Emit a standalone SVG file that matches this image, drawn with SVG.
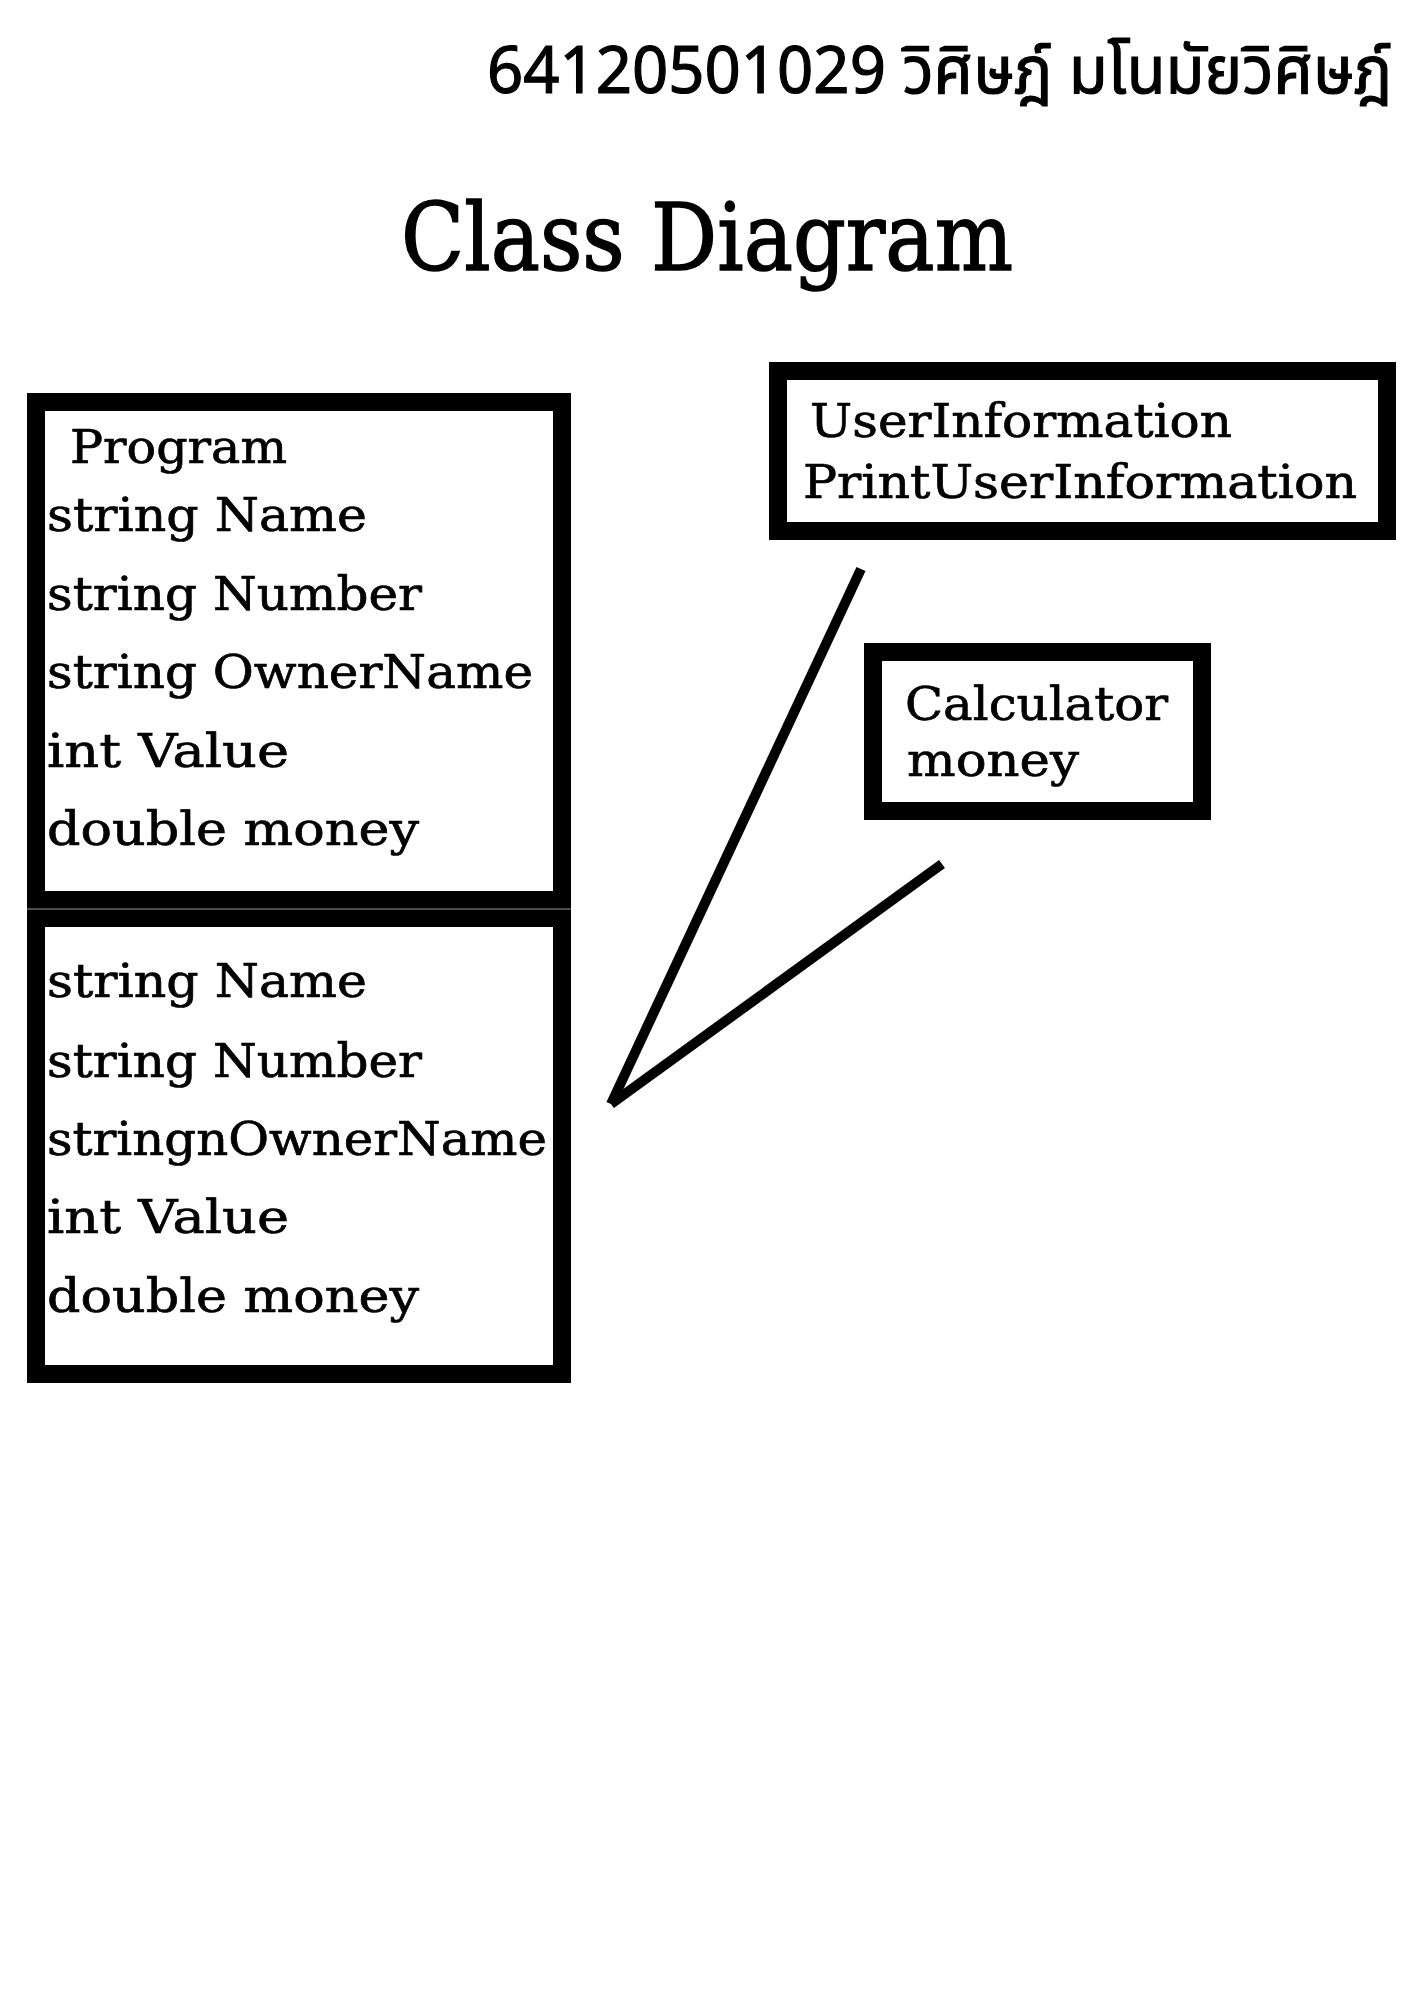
<svg xmlns="http://www.w3.org/2000/svg" width="1414" height="2000" viewBox="0 0 1414 2000">
<style>
.box{fill:#fff;stroke:#000;stroke-width:18}
.t{font-family:"DejaVu Serif","Liberation Serif",serif;font-size:47px;fill:#000;stroke:#000;stroke-width:0.7}
.conn{stroke:#000;stroke-width:10;stroke-linecap:butt;fill:none}
</style>
<rect width="1414" height="2000" fill="#fff"/>
<g id="header">
<text x="487" y="93" font-family="'Noto Sans','Noto Sans Thai','DejaVu Sans',sans-serif" font-size="66" stroke="#000" stroke-width="1.2" textLength="905" lengthAdjust="spacingAndGlyphs">64120501029 วิศิษฎ์ มโนมัยวิศิษฎ์</text>
<text x="401" y="270" font-family="'DejaVu Serif','Liberation Serif',serif" font-size="94" stroke="#000" stroke-width="1.6" textLength="612" lengthAdjust="spacingAndGlyphs">Class Diagram</text>
</g>
<g id="connectors">
<line class="conn" x1="861" y1="569" x2="611" y2="1104"/>
<line class="conn" x1="942" y1="864" x2="611" y2="1104"/>
</g>
<g id="program">
<rect class="box" x="36" y="402" width="526" height="498"/>
<text class="t" x="70" y="463" font-size="41" textLength="217" lengthAdjust="spacingAndGlyphs">Program</text>
<text class="t" x="47" y="531" textLength="320" lengthAdjust="spacingAndGlyphs">string Name</text>
<text class="t" x="47" y="610" textLength="375" lengthAdjust="spacingAndGlyphs">string Number</text>
<text class="t" x="47" y="688" textLength="486" lengthAdjust="spacingAndGlyphs">string OwnerName</text>
<text class="t" x="47" y="767" textLength="242" lengthAdjust="spacingAndGlyphs">int Value</text>
<text class="t" x="47" y="845" textLength="372" lengthAdjust="spacingAndGlyphs">double money</text>
</g>
<g id="program-methods">
<rect class="box" x="36" y="918" width="526" height="456"/>
<line x1="27" y1="909" x2="571" y2="909" stroke="#999" stroke-width="1"/>
<text class="t" x="47" y="997" textLength="320" lengthAdjust="spacingAndGlyphs">string Name</text>
<text class="t" x="47" y="1077" textLength="375" lengthAdjust="spacingAndGlyphs">string Number</text>
<text class="t" x="47" y="1155" textLength="500" lengthAdjust="spacingAndGlyphs">stringnOwnerName</text>
<text class="t" x="47" y="1233" textLength="242" lengthAdjust="spacingAndGlyphs">int Value</text>
<text class="t" x="47" y="1312" textLength="372" lengthAdjust="spacingAndGlyphs">double money</text>
</g>
<g id="userinformation">
<rect class="box" x="778" y="371" width="609" height="160"/>
<text class="t" x="810" y="437" textLength="422" lengthAdjust="spacingAndGlyphs">UserInformation</text>
<text class="t" x="803" y="498" textLength="554" lengthAdjust="spacingAndGlyphs">PrintUserInformation</text>
</g>
<g id="calculator">
<rect class="box" x="873" y="652" width="329" height="159"/>
<text class="t" x="905" y="720" textLength="263" lengthAdjust="spacingAndGlyphs">Calculator</text>
<text class="t" x="907" y="776" textLength="172" lengthAdjust="spacingAndGlyphs">money</text>
</g>
</svg>
